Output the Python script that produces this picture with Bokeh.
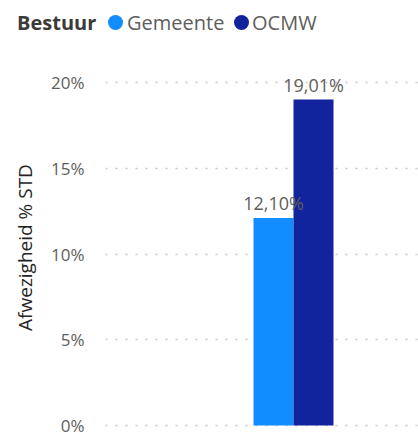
from bokeh.plotting import figure
from bokeh.layouts import column
from bokeh.models import ColumnDataSource, Range1d, NumeralTickFormatter, FixedTicker, LabelSet, Div
from bokeh.embed import file_html
from bokeh.resources import INLINE
from bokeh.core.properties import value

categories = ["Totaal"]
series = ["Gemeente", "OCMW"]
gemeente = [0.1210]
ocmw = [0.1901]
colors = ["#118DFF", "#12239E"]
yticks = [0, 0.05, 0.10, 0.15, 0.20]
legend_title = "Bestuur"
FONT = "Open Sans"

# ---------- legend row ----------
swatch_left = [108, 234]
label_left = [127, 252]
parts = ['<div style="position:relative;width:418px;height:62px;font-family:\'%s\';">' % FONT,
         '<span style="position:absolute;left:17px;top:0;line-height:46px;font-size:20px;'
         'font-weight:bold;color:#3B3A39;white-space:nowrap;">%s</span>' % legend_title]
for s, c, sl, ll in zip(series, colors, swatch_left, label_left):
    parts.append('<span style="position:absolute;left:%dpx;top:15px;width:15px;height:15px;'
                 'border-radius:50%%;background:%s;"></span>' % (sl, c))
    parts.append('<span style="position:absolute;left:%dpx;top:0;line-height:46px;font-size:20px;'
                 'color:#605E5C;white-space:nowrap;">%s</span>' % (ll, s))
parts.append('</div>')
header = Div(text="".join(parts), width=418, height=62, margin=(0, 0, 0, 0))

# ---------- main chart ----------
p = figure(width=418, height=374, output_backend="svg", toolbar_location=None,
           x_range=Range1d(-1.88, 1.25), y_range=Range1d(-0.0041, 0.2117),
           min_border_left=105, min_border_right=0, min_border_top=0, min_border_bottom=4)
p.outline_line_color = None
p.background_fill_color = "white"

xs = list(range(len(categories)))
offsets = [-0.2, 0.2]
vals = [gemeente, ocmw]
for s, off, v, c in zip(series, offsets, vals, colors):
    src = ColumnDataSource(dict(x=[xi + off for xi in xs], top=v,
                                lab=[("%.2f%%" % (tv * 100)).replace(".", ",") for tv in v]))
    p.vbar(x="x", top="top", width=0.4, bottom=0, source=src, fill_color=c, line_color=None,
           legend_label=s)
    p.add_layout(LabelSet(x="x", y="top", text="lab", source=src, text_align="center",
                          text_baseline="bottom", y_offset=3, text_font=value(FONT),
                          text_font_size="18px", text_color="#605E5C"))
p.legend.visible = False

p.xaxis.visible = False
p.xgrid.visible = False
p.yaxis.ticker = FixedTicker(ticks=yticks)
p.yaxis.formatter = NumeralTickFormatter(format="0%")
p.yaxis.axis_line_color = None
p.yaxis.major_tick_line_color = None
p.yaxis.minor_tick_line_color = None
p.yaxis.major_label_standoff = 15
p.yaxis.major_label_text_font = FONT
p.yaxis.major_label_text_font_size = "17px"
p.yaxis.major_label_text_color = "#605E5C"
p.yaxis.axis_label = "Afwezigheid % STD"
p.yaxis.axis_label_text_font = FONT
p.yaxis.axis_label_text_font_size = "19px"
p.yaxis.axis_label_text_font_style = "normal"
p.yaxis.axis_label_text_color = "#252423"
p.yaxis.axis_label_standoff = 10
p.ygrid.grid_line_color = "#C8C6C4"
p.ygrid.grid_line_dash = "2 8"
p.ygrid.grid_line_width = 1.5

layout = column(header, p, spacing=0)
open("out.html", "w").write(file_html(layout, INLINE))
